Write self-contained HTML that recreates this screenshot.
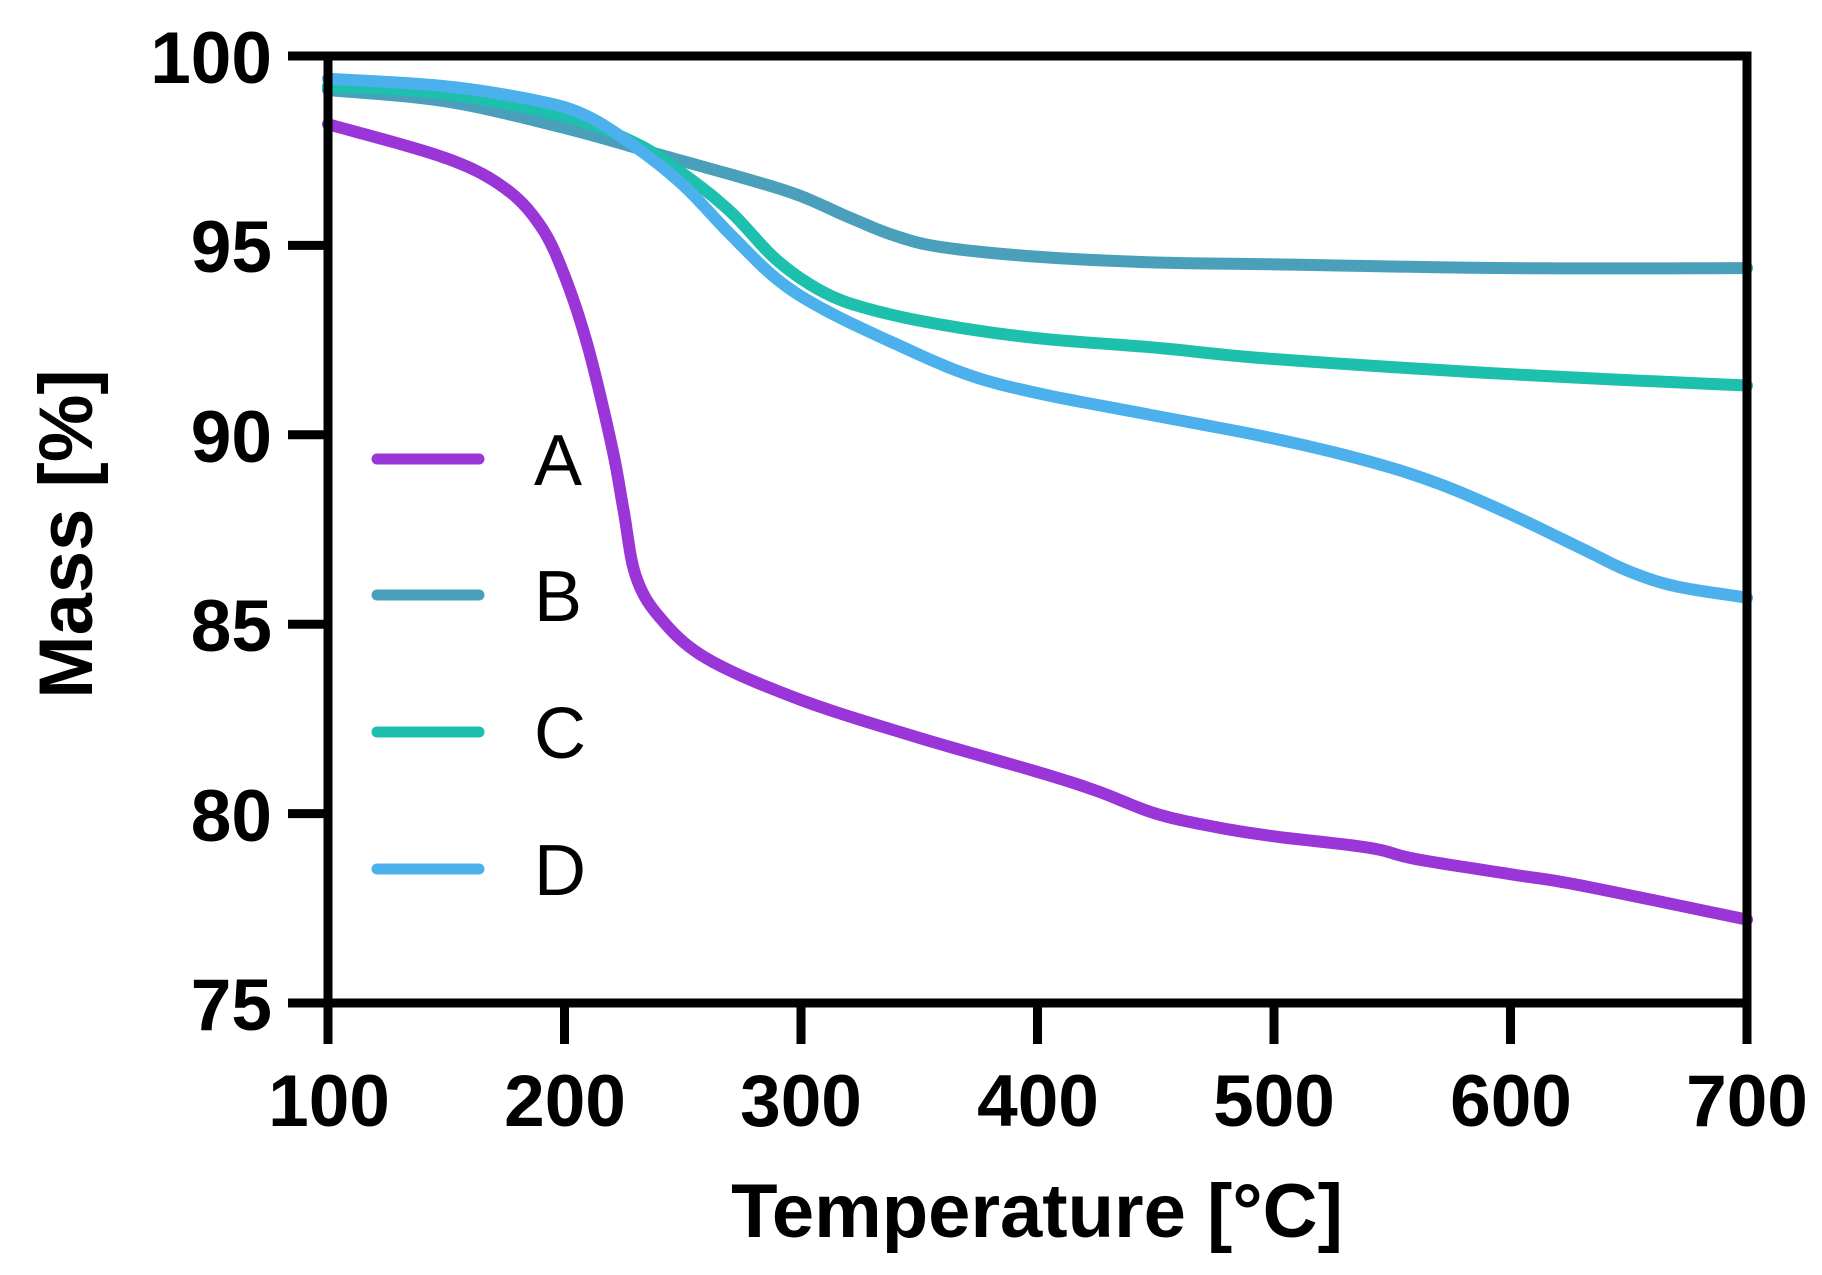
<!DOCTYPE html>
<html><head><meta charset="utf-8"><style>html,body{margin:0;padding:0;background:#fff}svg{display:block}</style></head>
<body>
<svg width="1822" height="1275" viewBox="0 0 1822 1275" xmlns="http://www.w3.org/2000/svg" font-family="Liberation Sans, Arial, sans-serif">
<g transform="translate(91.5 3844) scale(2.365 -37.88)" fill="none" stroke-linecap="round" stroke-linejoin="round">
<polyline class="c" vector-effect="non-scaling-stroke" stroke="#4a9fba" stroke-width="12" points="100,99.1 150,98.8 200,98.1 240,97.4 280,96.7 300,96.3 320,95.75 340,95.25 360,94.95 400,94.7 450,94.55 500,94.5 600,94.4 700,94.4"/>
<polyline class="c" vector-effect="non-scaling-stroke" stroke="#1dbfad" stroke-width="12" points="100,99.2 150,99.0 200,98.4 230,97.7 250,96.9 270,95.9 290,94.6 310,93.75 330,93.3 360,92.9 400,92.55 450,92.3 500,92.0 600,91.6 700,91.3"/>
<polyline class="c" vector-effect="non-scaling-stroke" stroke="#4bb0ec" stroke-width="12" points="100,99.4 150,99.2 190,98.8 210,98.4 230,97.6 250,96.6 270,95.3 290,94.1 310,93.3 340,92.4 370,91.6 400,91.1 450,90.5 500,89.9 540,89.3 570,88.7 600,87.9 630,87.0 650,86.4 670,86.0 700,85.7"/>
<polyline class="c" vector-effect="non-scaling-stroke" stroke="#9a35d8" stroke-width="12" points="100,98.2 150,97.3 175,96.5 190,95.5 200,94.2 210,92.3 220,89.7 225,88 230,86.3 240,85.2 260,84.1 300,83 350,82 400,81.1 425,80.6 450,80 475,79.65 500,79.4 540,79.1 560,78.8 600,78.4 630,78.1 700,77.2"/>
</g>
<g stroke="#000" stroke-width="9" fill="none">
<rect x="328" y="56" width="1419" height="947"/>
<path d="M288 56H328M288 245.4H328M288 434.8H328M288 624.2H328M288 813.6H328M288 1003H328"/>
<path d="M328 1003V1044M564.5 1003V1044M801 1003V1044M1037.5 1003V1044M1274 1003V1044M1510.5 1003V1044M1747 1003V1044"/>
</g>
<g font-size="73" font-weight="bold" text-anchor="end">
<text x="272" y="83">100</text><text x="272" y="272">95</text><text x="272" y="462">90</text><text x="272" y="651">85</text><text x="272" y="841">80</text><text x="272" y="1030">75</text>
</g>
<g font-size="73" font-weight="bold" text-anchor="middle">
<text x="329" y="1126">100</text><text x="565" y="1126">200</text><text x="801" y="1126">300</text><text x="1038" y="1126">400</text><text x="1274" y="1126">500</text><text x="1511" y="1126">600</text><text x="1747" y="1126">700</text>
</g>
<text x="1037" y="1237" font-size="76" font-weight="bold" text-anchor="middle">Temperature [°C]</text>
<text transform="translate(92 534) rotate(-90)" font-size="76" font-weight="bold" text-anchor="middle">Mass [%]</text>
<g stroke-width="11" stroke-linecap="round">
<line x1="377" y1="459" x2="479" y2="459" stroke="#9a35d8"/>
<line x1="377" y1="595" x2="479" y2="595" stroke="#4a9fba"/>
<line x1="377" y1="732" x2="479" y2="732" stroke="#1dbfad"/>
<line x1="377" y1="869" x2="479" y2="869" stroke="#4bb0ec"/>
</g>
<g font-size="72">
<text x="534" y="485">A</text><text x="534" y="621">B</text><text x="534" y="758">C</text><text x="534" y="895">D</text>
</g>
</svg>
<script>
document.querySelectorAll('polyline.c').forEach(function(pl){
  var p=pl.getAttribute('points').trim().split(/\s+/).map(function(s){return s.split(',').map(Number);});
  var out=[];
  for(var i=0;i<p.length-1;i++){
    var p0=p[Math.max(i-1,0)],p1=p[i],p2=p[i+1],p3=p[Math.min(i+2,p.length-1)];
    for(var k=0;k<10;k++){
      var t=k/10,t2=t*t,t3=t2*t;
      var f=function(a,b,c,d){return 0.5*((2*b)+(-a+c)*t+(2*a-5*b+4*c-d)*t2+(-a+3*b-3*c+d)*t3);};
      out.push(f(p0[0],p1[0],p2[0],p3[0]).toFixed(2)+','+f(p0[1],p1[1],p2[1],p3[1]).toFixed(3));
    }
  }
  out.push(p[p.length-1].join(','));
  pl.setAttribute('points',out.join(' '));
});
</script>
</body></html>
